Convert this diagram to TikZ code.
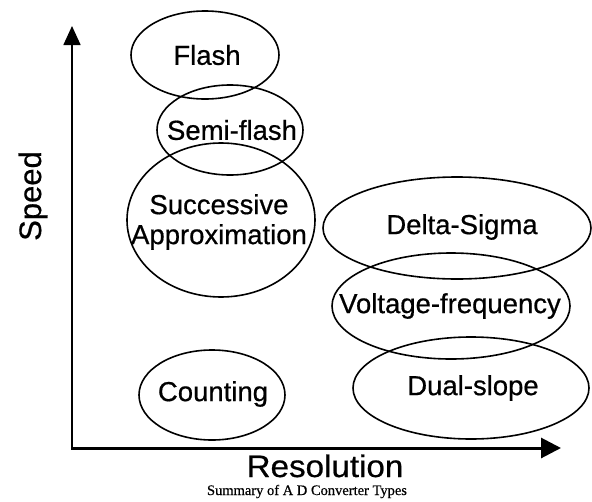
\documentclass[tikz,border=0pt]{standalone}
\usepackage{fontspec}
\setmainfont{Liberation Sans}[FakeBold=0.6]
\newfontfamily\capfont{Liberation Serif}[FakeBold=0.5]
\usetikzlibrary{arrows.meta}
\tikzset{
  oval/.style={draw=black, line width=1.6pt},
  lbl/.style={inner sep=0pt, font=\fontsize{27.5}{30}\selectfont, align=center},
  axis/.style={draw=black, line width=2pt},
  bigtxt/.style={inner sep=0pt, font=\fontsize{31}{33}\selectfont},
}
\begin{document}
\begin{tikzpicture}[x=1pt,y=-1pt]
\useasboundingbox[fill=white] (0,0) rectangle (592,501);
% axes
\coordinate (O) at (72,448);
\coordinate (ytip) at (72,26);
\coordinate (xtip) at (561,448);
\draw[axis, line width=1.6pt, -{Triangle[length=19pt,width=17pt]}] (O) -- (ytip);
\draw[axis, line width=3pt, -{Triangle[length=20pt,width=20pt]}] ([xshift=-0.8pt]O) -- (xtip);
% ellipses
\draw[oval] (205,55) coordinate (cfl) ellipse [x radius=74, y radius=44];
\draw[oval] (230,130) coordinate (csf) ellipse [x radius=73, y radius=45];
\draw[oval] (221,220) coordinate (csa) ellipse [x radius=94, y radius=77];
\draw[oval] (457,228) coordinate (cds) ellipse [x radius=134, y radius=51];
\draw[oval] (451,306) coordinate (cvf) ellipse [x radius=119, y radius=53];
\draw[oval] (471,388) coordinate (cdl) ellipse [x radius=118, y radius=51];
\draw[oval] (212,395) coordinate (cct) ellipse [x radius=73, y radius=45];
% labels
\node[lbl] (fl) at (207,55) {Flash};
\node[lbl] (sf) at (232,130) {Semi-flash};
\node[lbl] (sa) at (219,222) {Successive\\Approximation};
\node[lbl] (ds) at (462,227) {Delta-Sigma};
\node[lbl] (vf) at (450,306) {Voltage-frequency};
\node[lbl] (dl) at (473,388) {Dual-slope};
\node[lbl] (ct) at (213,394) {Counting};
% axis titles
\node[bigtxt, rotate=90] (speed) at (33,196) {Speed};
\node[bigtxt, anchor=base] (res) at (325,477) {\scalebox{1.07}[1]{Resolution}};
\node[inner sep=0pt, anchor=base, font=\capfont\fontsize{14.5}{16}\selectfont] (cap) at (307,495) {Summary of A D Converter Types};
\end{tikzpicture}
\end{document}
